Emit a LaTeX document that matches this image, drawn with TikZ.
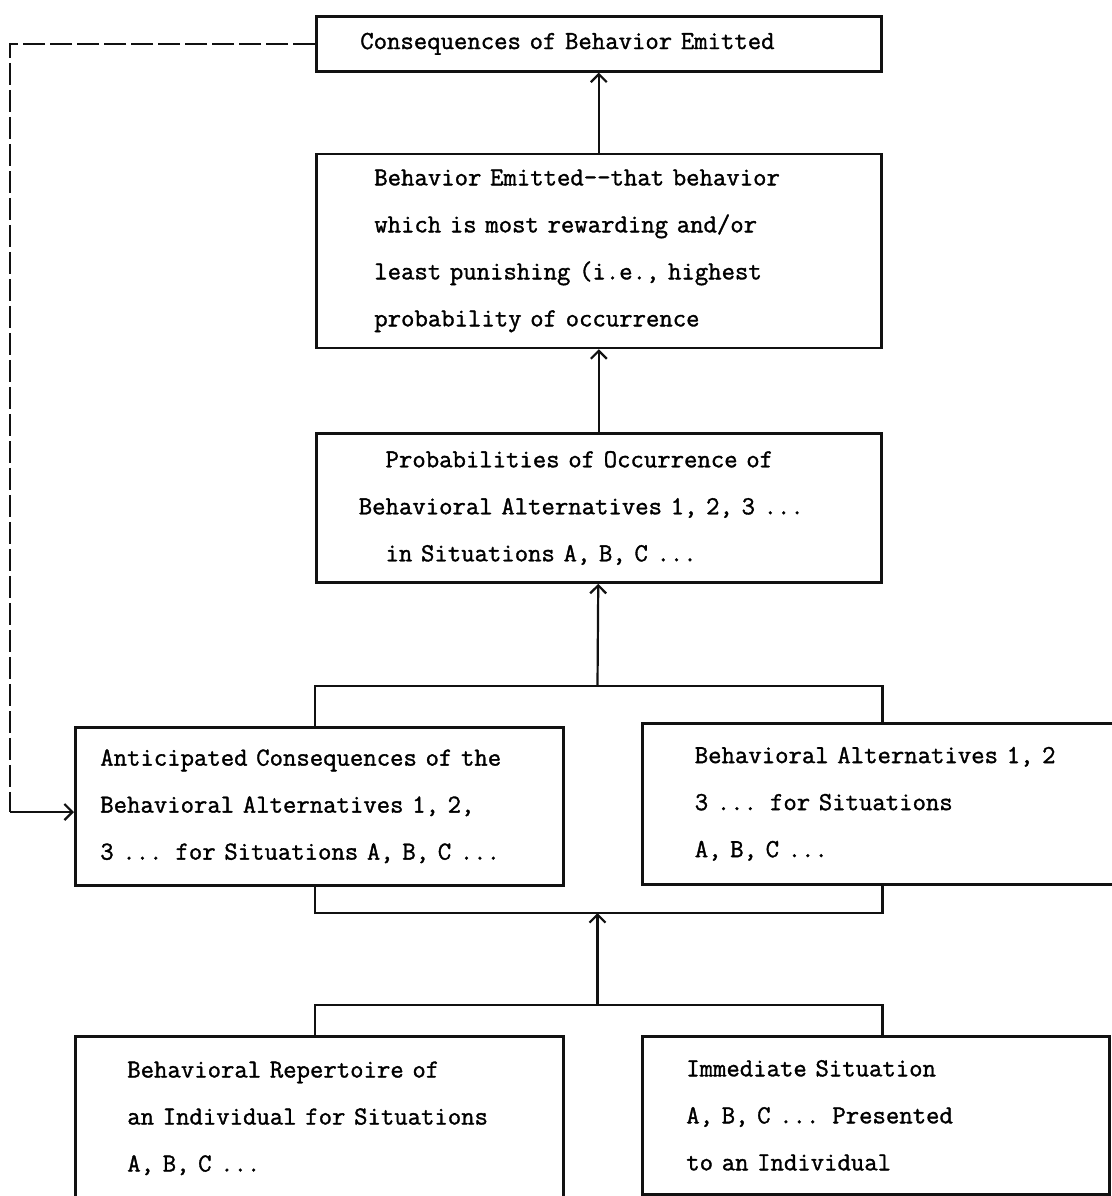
\documentclass[tikz,border=0pt]{standalone}
\usepackage{fontspec}
\newfontfamily\typer{Latin Modern Mono}[FakeBold=1.3]
\usepackage{tikz}
\usetikzlibrary{arrows.meta,positioning}
\definecolor{ink}{HTML}{111111}

\begin{document}
\begin{tikzpicture}[
 x=0.5pt,y=-0.5pt,
 box/.style={draw=ink,line width=1.3pt,rectangle,anchor=north west,align=left,inner xsep=0pt,inner ysep=0pt,font=\typer\fontsize{13}{23.5}\selectfont},
 link/.style={draw=ink,line width=1.3pt},
 arrow/.style={-{Straight Barb[length=4pt,width=8pt]},draw=ink,line width=1.1pt},
 feedback/.style={draw=ink,line width=1.1pt,dash pattern=on 11pt off 2.5pt},
 node distance=40pt
]
\useasboundingbox (0,0) rectangle (1112,1196);
\node[box,minimum width=282.5pt,minimum height=27.5pt,text width=238.5pt] (emitcons) at (315,15) {Consequences of Behavior Emitted};
\node[box,below=40pt of emitcons,minimum width=282.5pt,minimum height=97pt,text width=224.5pt] (emitted) {Behavior Emitted-{}-that behavior\\which is most rewarding and/or\\least punishing (i.e., highest\\probability of occurrence};
\node[box,below=41.5pt of emitted,minimum width=282.5pt,minimum height=74.5pt,text width=240pt] (probs) {\hphantom{xx}Probabilities of Occurrence of\\Behavioral Alternatives 1, 2, 3 ...\\\hphantom{xx}in Situations A, B, C ...};
\node[box,minimum width=244pt,minimum height=79pt,text width=219pt] (anticip) at (74,726) {Anticipated Consequences of the\\Behavioral Alternatives 1, 2,\\3 ... for Situations A, B, C ...};
\node[box,minimum width=244.5pt,minimum height=80.5pt,text width=192pt] (alts) at (641,722) {Behavioral Alternatives 1, 2\\3 ... for Situations\\A, B, C ...};
\node[box,minimum width=244pt,minimum height=82pt,text width=192pt] (repert) at (74,1035) {Behavioral Repertoire of\\an Individual for Situations\\A, B, C ...};
\node[box,minimum width=233.5pt,minimum height=79pt,text width=189.5pt] (situat) at (641,1035) {Immediate Situation\\A, B, C ... Presented\\to an Individual};
% joints of the brackets and the turn of the feedback line
\coordinate (upjoin) at (597.5,686);
\coordinate (lowjoin) at (597.5,913);
\coordinate (basejoin) at (597.5,1005);
\coordinate (fbturn) at (10,812);
\draw[arrow] (emitted) -- (emitcons);
\draw[arrow] (probs) -- (emitted);
\draw[arrow] (upjoin) -- (probs);
\draw[link] (emitcons.west |- anticip.north) |- (upjoin) -| (emitcons.east |- alts.north);
\draw[link] (emitcons.west |- anticip.south) |- (lowjoin) -| (emitcons.east |- alts.south);
\draw[link] (emitcons.west |- repert.north) |- (basejoin) -| (emitcons.east |- situat.north);
\draw[arrow] (basejoin) -- (lowjoin);
\draw[feedback] (emitcons.west) -| (fbturn);
\draw[arrow] (fbturn) -- (fbturn -| anticip.west);
\end{tikzpicture}
\end{document}
